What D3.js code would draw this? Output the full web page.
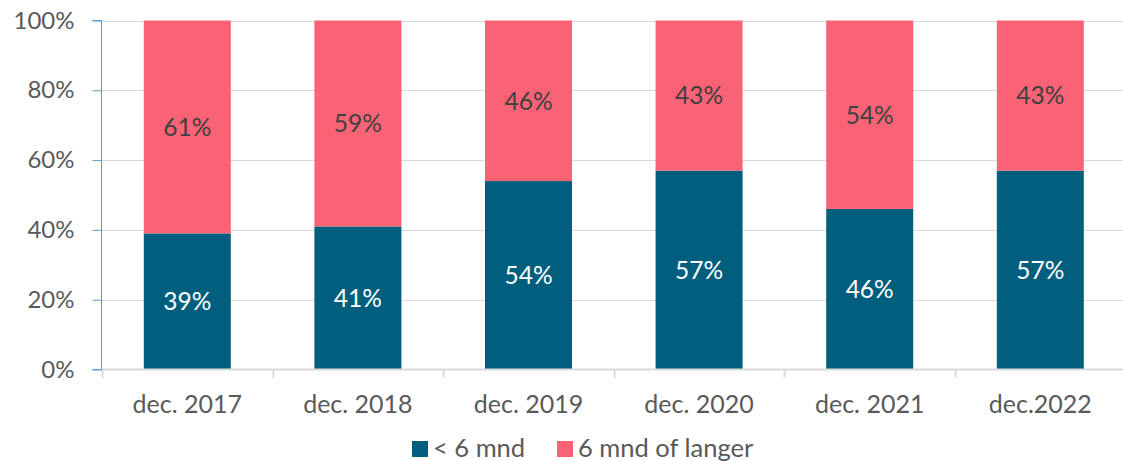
<!DOCTYPE html>
<html>
<head>
<meta charset="utf-8">
<script src="https://cdn.jsdelivr.net/npm/d3@7"></script>
<style>
  html, body { margin: 0; padding: 0; background: #fff; overflow: hidden; }
  svg { display: block; font-family: Lato, "Open Sans", sans-serif; }
</style>
</head>
<body>
<svg id="chart" width="1123" height="461"></svg>
<script>
// Share of cases by duration, per December measurement
const categories = ["dec. 2017", "dec. 2018", "dec. 2019", "dec. 2020", "dec. 2021", "dec.2022"];
const shortShare = [39, 41, 54, 57, 46, 57];   // < 6 mnd
const longShare  = [61, 59, 46, 43, 54, 43];   // 6 mnd of langer
const seriesNames = ["< 6 mnd", "6 mnd of langer"];
const yTicks = [0, 20, 40, 60, 80, 100];

const colors = ["#015f7d", "#fa6375"];
const labelColors = ["#ffffff", "#404040"];

const svg = d3.select("#chart");
const W = 1123, H = 461;
// the plot area runs slightly past the right edge of the canvas
const x0 = 102, x1 = 1125.6;
const y0 = 369.5, y1 = 20.5;

const x = d3.scaleBand().domain(categories).range([x0, x1]).paddingInner(0.49).paddingOuter(0.245);
const xBand = d3.scaleBand().domain(categories).range([x0, x1]).padding(0);
const y = d3.scaleLinear().domain([0, 100]).range([y0, y1]);

// gridlines
svg.append("g")
  .selectAll("line")
  .data(yTicks.filter(t => t > 0))
  .join("line")
  .attr("x1", x0).attr("x2", x1)
  .attr("y1", d => Math.round(y(d)) + 0.5).attr("y2", d => Math.round(y(d)) + 0.5)
  .attr("stroke", "#d9d9d9").attr("stroke-width", 1);

// stacked bars
const rows = categories.map((c, i) => ({ cat: c, v: [shortShare[i], longShare[i]] }));
const stack = d3.stack().keys([0, 1]).value((d, k) => d.v[k]);
const layers = stack(rows);

layers.forEach((layer, k) => {
  const g = svg.append("g");
  g.selectAll("rect")
    .data(layer)
    .join("rect")
    .attr("x", d => x(d.data.cat))
    .attr("width", x.bandwidth())
    .attr("y", d => y(d[1]))
    .attr("height", d => y(d[0]) - y(d[1]))
    .attr("fill", colors[k]);
  g.selectAll("text")
    .data(layer)
    .join("text")
    .attr("x", d => x(d.data.cat) + x.bandwidth() / 2)
    .attr("y", d => (y(d[0]) + y(d[1])) / 2)
    .attr("dy", "0.36em")
    .attr("text-anchor", "middle")
    .attr("font-size", 24.5)
    .attr("fill", labelColors[k])
    .text(d => (d[1] - d[0]) + "%");
});

// x axis baseline with category boundary ticks
const xAxis = svg.append("g");
xAxis.append("line")
  .attr("x1", x0).attr("x2", x1)
  .attr("y1", y0).attr("y2", y0)
  .attr("stroke", "#d9d9d9").attr("stroke-width", 2);
const bounds = categories.map(c => xBand(c)).concat([x1]);
xAxis.selectAll("line.tick")
  .data(bounds)
  .join("line")
  .attr("class", "tick")
  .attr("x1", d => Math.round(d) + 0.5).attr("x2", d => Math.round(d) + 0.5)
  .attr("y1", y0).attr("y2", y0 + 8)
  .attr("stroke", "#d9d9d9").attr("stroke-width", 2);
xAxis.selectAll("text")
  .data(categories)
  .join("text")
  .attr("x", d => xBand(d) + xBand.bandwidth() / 2)
  .attr("y", 413)
  .attr("text-anchor", "middle")
  .attr("font-size", 25)
  .attr("fill", "#595959")
  .text(d => d);

// y axis
const yAxis = svg.append("g").attr("transform", `translate(${x0 - 0.5},0)`)
  .call(d3.axisLeft(y).tickValues(yTicks).tickSize(9).tickPadding(18).tickFormat(d => d + "%"));
yAxis.select(".domain").attr("stroke", "#5b9bd5").attr("d", `M-9,${y1}H0V${y0}H-9`);
yAxis.selectAll(".tick line").attr("stroke", "#5b9bd5");
yAxis.selectAll(".tick text")
  .attr("font-family", "Lato, 'Open Sans', sans-serif")
  .attr("font-size", 24)
  .attr("fill", "#595959");

// legend
const legend = svg.append("g");
const legendItems = [
  { name: seriesNames[0], color: colors[0], sx: 412 },
  { name: seriesNames[1], color: colors[1], sx: 557 }
];
legendItems.forEach(it => {
  legend.append("rect")
    .attr("x", it.sx).attr("y", 441)
    .attr("width", 16).attr("height", 16)
    .attr("fill", it.color);
  legend.append("text")
    .attr("x", it.sx + 21).attr("y", 457)
    .attr("font-size", 25.5)
    .attr("fill", "#595959")
    .text(it.name);
});
</script>
</body>
</html>
